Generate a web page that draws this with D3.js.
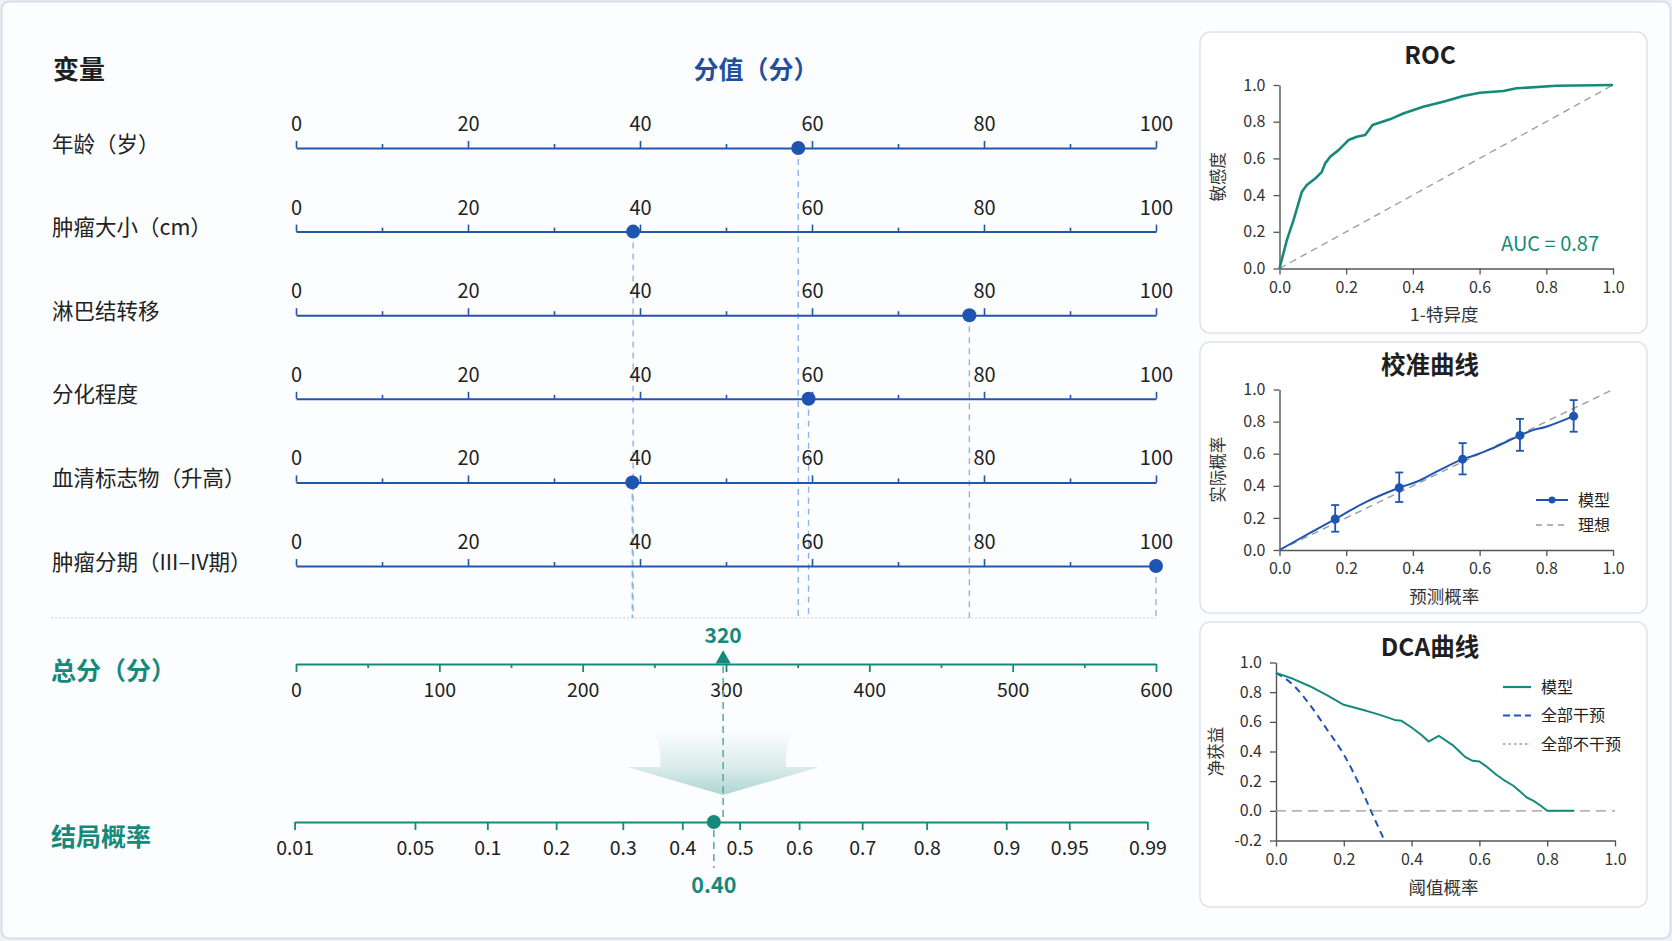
<!DOCTYPE html>
<html>
<head>
<meta charset="utf-8">
<script src="https://cdn.jsdelivr.net/npm/d3@7"></script>
<style>
  html, body { margin: 0; padding: 0; background: #fff; }
  svg { display: block; }
</style>
</head>
<body>
<svg id="chart"></svg>
<script>
// ---- nomogram data ----
const variables = ["年龄（岁）", "肿瘤大小（cm）", "淋巴结转移", "分化程度", "血清标志物（升高）", "肿瘤分期（III–IV期）"];
const variablePoints = [58.4, 39.2, 78.3, 59.6, 39.1, 100];
const pointTicks = d3.range(0, 101, 10);
const totalTicks = d3.range(0, 601, 50);
const totalMarker = 298;      // where the triangle sits on the total axis
const totalLabel = "320";
const probTicks = [0.01, 0.05, 0.1, 0.2, 0.3, 0.4, 0.5, 0.6, 0.7, 0.8, 0.9, 0.95, 0.99];
// total points that line up with each probability tick
const probTickPoints = [-1, 83, 133.5, 181.5, 228, 269.5, 309.5, 351, 395, 440, 495.5, 539.5, 594];
const probMarker = 0.455;
const probLabel = "0.40";

// ---- ROC ----
const rocFpr = [0, 0.022, 0.042, 0.067, 0.082, 0.107, 0.127, 0.137, 0.152, 0.177, 0.207, 0.232, 0.257, 0.279, 0.331, 0.371, 0.431, 0.491, 0.551, 0.601, 0.671, 0.711, 0.83, 1.0];
const rocTpr = [0, 0.155, 0.264, 0.418, 0.455, 0.49, 0.527, 0.573, 0.609, 0.645, 0.70, 0.718, 0.727, 0.782, 0.813, 0.845, 0.882, 0.909, 0.94, 0.958, 0.967, 0.982, 0.996, 1.0];
const aucLabel = "AUC = 0.87";

// ---- calibration ----
const calPred = [0.167, 0.359, 0.549, 0.721, 0.882];
const calObs = [0.193, 0.388, 0.566, 0.714, 0.834];
const calLo = [0.114, 0.299, 0.471, 0.618, 0.737];
const calHi = [0.280, 0.483, 0.666, 0.817, 0.934];
const calCurveX = [0, 0.167, 0.26, 0.359, 0.411, 0.471, 0.549, 0.581, 0.631, 0.721, 0.76, 0.8, 0.882];
const calCurveY = [0, 0.193, 0.30, 0.388, 0.425, 0.488, 0.566, 0.587, 0.627, 0.714, 0.747, 0.768, 0.834];

// ---- DCA ----
const dcaX = [0, 0.05, 0.1, 0.15, 0.2, 0.25, 0.3, 0.35, 0.37, 0.4, 0.43, 0.45, 0.48, 0.52, 0.56, 0.58, 0.6, 0.62, 0.65, 0.67, 0.7, 0.72, 0.74, 0.76, 0.78, 0.8, 0.84, 0.88];
const dcaModel = [0.93, 0.89, 0.84, 0.78, 0.715, 0.685, 0.652, 0.613, 0.607, 0.562, 0.51, 0.467, 0.506, 0.445, 0.36, 0.337, 0.333, 0.30, 0.243, 0.211, 0.169, 0.13, 0.09, 0.067, 0.036, 0.0, 0.0, 0.0];
const dcaAllX = [0, 0.05, 0.1, 0.15, 0.2, 0.25, 0.28, 0.32];
const dcaAllY = [0.93, 0.85, 0.715, 0.55, 0.38, 0.155, 0.0, -0.2];
const dcaNoneX = [0, 1];
const dcaNoneY = [0, 0];

const unitTicks = [0, 0.2, 0.4, 0.6, 0.8, 1.0];
const dcaYTicks = [-0.2, 0, 0.2, 0.4, 0.6, 0.8, 1.0];

// ---- style ----
const FONT = '"Noto Sans CJK SC", "Noto Sans", sans-serif';
const BLUE = "#2456a8";
const DOT_BLUE = "#1f55b0";
const LIGHT_BLUE = "#8db4ec";
const TEAL = "#16897a";
const TEAL_LIGHT = "#58b0a3";
const INK = "#1f1f1f";
const W = 1672, H = 941;

const svg = d3.select("#chart").attr("width", W).attr("height", H).attr("font-family", FONT);

const defs = svg.append("defs");
const grad = defs.append("linearGradient").attr("id", "arrowGrad")
  .attr("x1", 0).attr("y1", 0).attr("x2", 0).attr("y2", 1);
grad.append("stop").attr("offset", "0%").attr("stop-color", TEAL).attr("stop-opacity", 0);
grad.append("stop").attr("offset", "55%").attr("stop-color", TEAL).attr("stop-opacity", 0.14);
grad.append("stop").attr("offset", "100%").attr("stop-color", TEAL).attr("stop-opacity", 0.34);

// outer frame
svg.append("rect").attr("width", W).attr("height", H).attr("fill", "#eef1f5");
svg.append("rect").attr("x", 1.5).attr("y", 1.5).attr("width", W - 3).attr("height", H - 4)
  .attr("rx", 8).attr("fill", "#fcfdfe").attr("stroke", "#d8dee7").attr("stroke-width", 2);

// ================= nomogram =================
const xPts = d3.scaleLinear().domain([0, 100]).range([296, 1156]);
const xTot = d3.scaleLinear().domain([0, 600]).range([296, 1156]);
const xProb = d3.scaleLinear().domain(probTicks).range(probTickPoints.map(xTot));
const rowY = d3.scaleLinear().domain([0, variables.length - 1]).range([148, 566]);
const sepY = 618, totalY = 664, probY = 822;

svg.append("text").attr("x", 53).attr("y", 79).attr("font-size", 26).attr("font-weight", 700)
  .attr("fill", INK).text("变量");
svg.append("text").attr("x", 756).attr("y", 79).attr("text-anchor", "middle").attr("font-size", 25)
  .attr("font-weight", 700).attr("fill", "#1f4f9e").text("分值（分）");

// dashed guides from each dot down to the separator
svg.append("g").selectAll("line").data(variablePoints).join("line")
  .attr("x1", d => xPts(d)).attr("x2", d => xPts(d))
  .attr("y1", (d, i) => rowY(i)).attr("y2", sepY)
  .attr("stroke", LIGHT_BLUE).attr("stroke-width", 1.4).attr("stroke-dasharray", "6,5");

variables.forEach((name, i) => {
  const y = rowY(i);
  svg.append("text").attr("x", 52).attr("y", y + 3.5).attr("font-size", 21.5).attr("fill", "#222").text(name);
  const g = svg.append("g").attr("transform", `translate(0,${y})`)
    .call(d3.axisTop(xPts).tickValues(pointTicks).tickSize(7).tickSizeOuter(0).tickPadding(10)
      .tickFormat(d => d % 20 === 0 ? d : ""));
  g.attr("font-family", FONT);
  g.select(".domain").attr("stroke", BLUE).attr("stroke-width", 2);
  g.selectAll(".tick line").attr("stroke", BLUE).attr("stroke-width", 1.6).attr("y2", d => d % 20 === 0 ? -7 : -4);
  g.selectAll(".tick text").attr("fill", "#222").attr("font-size", 20);
  svg.append("circle").attr("cx", xPts(variablePoints[i])).attr("cy", y).attr("r", 7).attr("fill", DOT_BLUE);
});

// separator
svg.append("line").attr("x1", 51).attr("x2", xPts(100)).attr("y1", sepY).attr("y2", sepY)
  .attr("stroke", "#c5cad3").attr("stroke-width", 1).attr("stroke-dasharray", "2,2");

// total points axis
svg.append("text").attr("x", 51).attr("y", totalY + 16).attr("font-size", 25).attr("font-weight", 700)
  .attr("fill", TEAL).text("总分（分）");
const gT = svg.append("g").attr("transform", `translate(0,${totalY})`)
  .call(d3.axisBottom(xTot).tickValues(totalTicks).tickSize(8).tickSizeOuter(0).tickPadding(11)
    .tickFormat(d => d % 100 === 0 ? d : ""));
gT.attr("font-family", FONT);
gT.select(".domain").attr("stroke", TEAL).attr("stroke-width", 2.2);
gT.selectAll(".tick line").attr("stroke", TEAL).attr("stroke-width", 1.8).attr("y2", d => d % 100 === 0 ? 8 : 4);
gT.selectAll(".tick text").attr("fill", "#222").attr("font-size", 19.5);

// arrow from total to probability
const ax = xTot(totalMarker);
const arrowPath = d3.path();
arrowPath.moveTo(ax - 70, totalY + 66);
arrowPath.quadraticCurveTo(ax - 61, totalY + 84, ax - 63, totalY + 103);
arrowPath.lineTo(ax - 96, totalY + 103);
arrowPath.lineTo(ax, totalY + 131);
arrowPath.lineTo(ax + 96, totalY + 103);
arrowPath.lineTo(ax + 63, totalY + 103);
arrowPath.quadraticCurveTo(ax + 61, totalY + 84, ax + 70, totalY + 66);
arrowPath.closePath();
svg.append("path").attr("d", arrowPath.toString()).attr("fill", "url(#arrowGrad)");

svg.append("line").attr("x1", ax).attr("x2", ax).attr("y1", totalY + 2).attr("y2", probY)
  .attr("stroke", TEAL_LIGHT).attr("stroke-width", 1.6).attr("stroke-dasharray", "7,5");
svg.append("path").attr("d", d3.symbol(d3.symbolTriangle).size(100)())
  .attr("transform", `translate(${ax},${totalY - 5})`).attr("fill", TEAL);
svg.append("text").attr("x", ax).attr("y", totalY - 21).attr("text-anchor", "middle")
  .attr("font-size", 21).attr("font-weight", 600).attr("fill", TEAL).text(totalLabel);

// probability axis
svg.append("text").attr("x", 51).attr("y", probY + 24).attr("font-size", 25).attr("font-weight", 700)
  .attr("fill", TEAL).text("结局概率");
const gP = svg.append("g").attr("transform", `translate(0,${probY})`)
  .call(d3.axisBottom(xProb).tickValues(probTicks).tickSize(8).tickSizeOuter(0).tickPadding(11)
    .tickFormat(d => String(d)));
gP.attr("font-family", FONT);
gP.select(".domain").attr("stroke", TEAL).attr("stroke-width", 2.2);
gP.selectAll(".tick line").attr("stroke", TEAL).attr("stroke-width", 1.8);
gP.selectAll(".tick text").attr("fill", "#222").attr("font-size", 19.5);

const px = xProb(probMarker);
svg.append("line").attr("x1", px).attr("x2", px).attr("y1", probY + 8).attr("y2", probY + 46)
  .attr("stroke", TEAL_LIGHT).attr("stroke-width", 1.6).attr("stroke-dasharray", "7,5");
svg.append("circle").attr("cx", px).attr("cy", probY).attr("r", 7).attr("fill", TEAL);
svg.append("text").attr("x", px).attr("y", probY + 71).attr("text-anchor", "middle")
  .attr("font-size", 21.5).attr("font-weight", 600).attr("fill", TEAL).text(probLabel);

// ================= side panels =================
function card(y, h, title, titleY) {
  svg.append("rect").attr("x", 1200).attr("y", y).attr("width", 447).attr("height", h).attr("rx", 10)
    .attr("fill", "#fff").attr("stroke", "#dde3ed").attr("stroke-width", 1.5);
  svg.append("text").attr("x", 1430).attr("y", titleY + 8.5).attr("text-anchor", "middle")
    .attr("font-size", 24.5).attr("font-weight", 700).attr("fill", INK).text(title);
}

function panelAxes(x, y, xTicks, yTicks, xLabel, yLabel, xLabelY, yLabelX) {
  const gx = svg.append("g").attr("transform", `translate(0,${y.range()[0]})`)
    .call(d3.axisBottom(x).tickValues(xTicks).tickSize(6).tickSizeOuter(0).tickPadding(7)
      .tickFormat(d => d.toFixed(1)));
  const gy = svg.append("g").attr("transform", `translate(${x.range()[0]},0)`)
    .call(d3.axisLeft(y).tickValues(yTicks).tickSize(6).tickSizeOuter(0).tickPadding(8)
      .tickFormat(d => d.toFixed(1)));
  [gx, gy].forEach(g => {
    g.attr("font-family", FONT);
    g.select(".domain").attr("stroke", "#555").attr("stroke-width", 1.4);
    g.selectAll(".tick line").attr("stroke", "#555").attr("stroke-width", 1.3);
    g.selectAll(".tick text").attr("fill", "#333").attr("font-size", 16);
  });
  const xm = (x.range()[0] + x.range()[1]) / 2 - 2;
  svg.append("text").attr("x", xm).attr("y", xLabelY + 6).attr("text-anchor", "middle")
    .attr("font-size", 17.5).attr("fill", "#333").text(xLabel);
  const ym = (y.range()[0] + y.range()[1]) / 2;
  svg.append("text").attr("transform", `translate(${yLabelX + 6},${ym}) rotate(-90)`)
    .attr("text-anchor", "middle").attr("font-size", 16.5).attr("fill", "#333").text(yLabel);
}

// ---- ROC ----
card(32, 301, "ROC", 55);
const xR = d3.scaleLinear().domain([0, 1]).range([1279.5, 1613]);
const yR = d3.scaleLinear().domain([0, 1]).range([268.5, 85]);
panelAxes(xR, yR, unitTicks, unitTicks, "1-特异度", "敏感度", 315, 1218);
svg.append("line").attr("x1", xR(0)).attr("y1", yR(0)).attr("x2", xR(1)).attr("y2", yR(1))
  .attr("stroke", "#9a9a9a").attr("stroke-width", 1.3).attr("stroke-dasharray", "7,5");
svg.append("path").datum(d3.range(rocFpr.length))
  .attr("d", d3.line().x(i => xR(rocFpr[i])).y(i => yR(rocTpr[i])))
  .attr("fill", "none").attr("stroke", TEAL).attr("stroke-width", 2.6).attr("stroke-linejoin", "round");
svg.append("text").attr("x", 1599).attr("y", 251).attr("text-anchor", "end")
  .attr("font-size", 20).attr("fill", TEAL).attr("xml:space", "preserve").text(aucLabel);

// ---- calibration ----
card(342, 271, "校准曲线", 365);
const xC = d3.scaleLinear().domain([0, 1]).range([1279.5, 1613]);
const yC = d3.scaleLinear().domain([0, 1]).range([550, 389.5]);
panelAxes(xC, yC, unitTicks, unitTicks, "预测概率", "实际概率", 597, 1218);
svg.append("line").attr("x1", xC(0)).attr("y1", yC(0)).attr("x2", xC(1)).attr("y2", yC(1))
  .attr("stroke", "#9a9a9a").attr("stroke-width", 1.4).attr("stroke-dasharray", "7,5");
svg.append("path").datum(d3.range(calCurveX.length))
  .attr("d", d3.line().x(i => xC(calCurveX[i])).y(i => yC(calCurveY[i])).curve(d3.curveCatmullRom))
  .attr("fill", "none").attr("stroke", DOT_BLUE).attr("stroke-width", 2);
const eb = svg.append("g").selectAll("g").data(d3.range(calPred.length)).join("g")
  .attr("stroke", DOT_BLUE).attr("stroke-width", 1.8);
eb.append("line").attr("x1", i => xC(calPred[i])).attr("x2", i => xC(calPred[i]))
  .attr("y1", i => yC(calLo[i])).attr("y2", i => yC(calHi[i]));
eb.append("line").attr("x1", i => xC(calPred[i]) - 4).attr("x2", i => xC(calPred[i]) + 4)
  .attr("y1", i => yC(calLo[i])).attr("y2", i => yC(calLo[i]));
eb.append("line").attr("x1", i => xC(calPred[i]) - 4).attr("x2", i => xC(calPred[i]) + 4)
  .attr("y1", i => yC(calHi[i])).attr("y2", i => yC(calHi[i]));
svg.append("g").selectAll("circle").data(d3.range(calPred.length)).join("circle")
  .attr("cx", i => xC(calPred[i])).attr("cy", i => yC(calObs[i])).attr("r", 4.5).attr("fill", DOT_BLUE);
// legend
const lgC = svg.append("g").attr("transform", "translate(1536,500)");
lgC.append("line").attr("x1", 0).attr("x2", 32).attr("stroke", DOT_BLUE).attr("stroke-width", 2);
lgC.append("circle").attr("cx", 16).attr("r", 3.5).attr("fill", DOT_BLUE);
lgC.append("text").attr("x", 42).attr("y", 5.5).attr("font-size", 16).attr("fill", "#222").text("模型");
lgC.append("line").attr("x1", 0).attr("x2", 32).attr("y1", 25).attr("y2", 25)
  .attr("stroke", "#9a9a9a").attr("stroke-width", 1.4).attr("stroke-dasharray", "6,5");
lgC.append("text").attr("x", 42).attr("y", 30.5).attr("font-size", 16).attr("fill", "#222").text("理想");

// ---- DCA ----
card(622, 285, "DCA曲线", 647);
const xD = d3.scaleLinear().domain([0, 1]).range([1276, 1615]);
const yD = d3.scaleLinear().domain([-0.2, 1]).range([840.5, 662.5]);
panelAxes(xD, yD, unitTicks, dcaYTicks, "阈值概率", "净获益", 888, 1216);
svg.append("path").datum(d3.range(dcaNoneX.length))
  .attr("d", d3.line().x(i => xD(dcaNoneX[i])).y(i => yD(dcaNoneY[i])))
  .attr("stroke", "#9a9a9a").attr("stroke-width", 1.4).attr("stroke-dasharray", "10,6");
svg.append("path").datum(d3.range(dcaAllX.length))
  .attr("d", d3.line().x(i => xD(dcaAllX[i])).y(i => yD(dcaAllY[i])).curve(d3.curveMonotoneX))
  .attr("fill", "none").attr("stroke", "#2255b0").attr("stroke-width", 2).attr("stroke-dasharray", "7,5");
svg.append("path").datum(d3.range(dcaX.length))
  .attr("d", d3.line().x(i => xD(dcaX[i])).y(i => yD(dcaModel[i])))
  .attr("fill", "none").attr("stroke", TEAL).attr("stroke-width", 2).attr("stroke-linejoin", "round");
const lgD = svg.append("g").attr("transform", "translate(1503,687)");
const dcaLegend = [
  { name: "模型", color: TEAL, dash: null, w: 2.2 },
  { name: "全部干预", color: "#2255b0", dash: "7,4", w: 2 },
  { name: "全部不干预", color: "#9a9a9a", dash: "2.5,3", w: 1.4 }
];
dcaLegend.forEach((d, i) => {
  lgD.append("line").attr("x1", 0).attr("x2", 28).attr("y1", i * 28.5).attr("y2", i * 28.5)
    .attr("stroke", d.color).attr("stroke-width", d.w).attr("stroke-dasharray", d.dash);
  lgD.append("text").attr("x", 38).attr("y", i * 28.5 + 5.5).attr("font-size", 16).attr("fill", "#222").text(d.name);
});
</script>
</body>
</html>
